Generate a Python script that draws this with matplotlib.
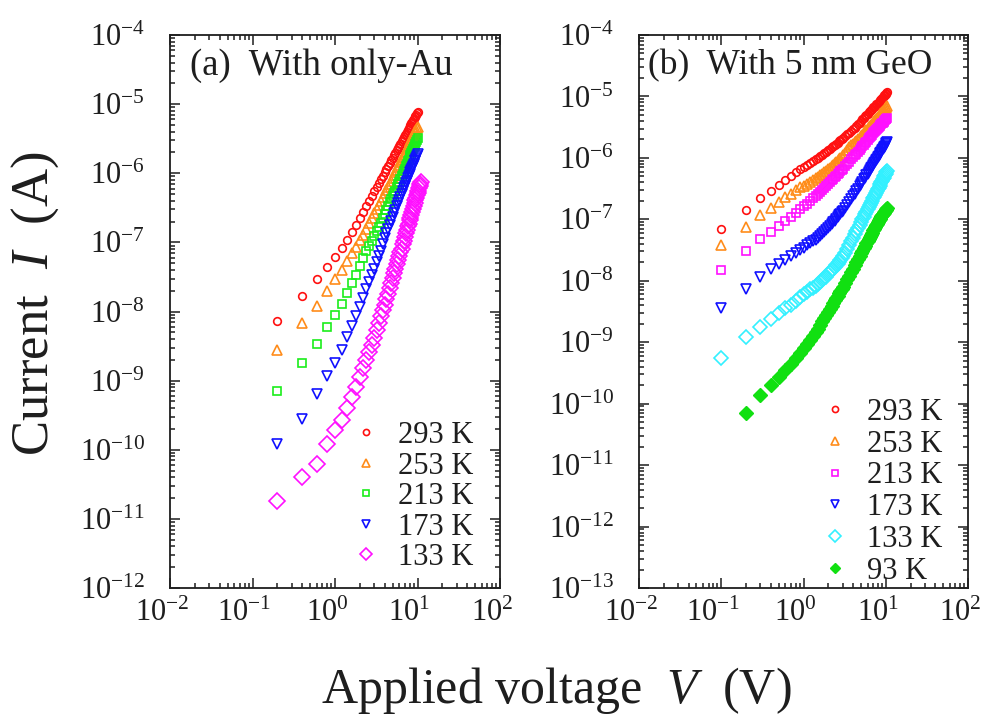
import numpy as np
import matplotlib
matplotlib.use("Agg")
import matplotlib.pyplot as plt
import matplotlib.transforms as mtransforms
from matplotlib.ticker import LogLocator, NullFormatter, FuncFormatter

# ---------------- data: panel (a) with only-Au ----------------
v_a = [0.2, 0.4, 0.6, 0.8, 1.0, 1.2, 1.4, 1.6, 1.8, 2.0,
       2.2, 2.4, 2.6, 2.8, 3.0, 3.2, 3.4, 3.6, 3.8, 4.0,
       4.2, 4.4, 4.6, 4.8, 5.0, 5.2, 5.4, 5.6, 5.8, 6.0,
       6.2, 6.4, 6.6, 6.8, 7.0, 7.2, 7.4, 7.6, 7.8, 8.0,
       8.2, 8.4, 8.6, 8.8, 9.0, 9.2, 9.4, 9.6, 9.8, 10.0]
v_a_133 = v_a + [10.2, 10.4, 10.6, 10.8, 11.0]

ia_293 = [7.4e-9, 1.7e-8, 2.95e-8, 4.47e-8, 6.17e-8, 8.3e-8, 1.10e-7, 1.41e-7, 1.78e-7, 2.24e-7,
          2.75e-7, 3.34e-7, 3.99e-7, 4.69e-7, 5.46e-7, 6.3e-7, 7.18e-7, 8.15e-7, 9.2e-7, 1.03e-6,
          1.15e-6, 1.27e-6, 1.40e-6, 1.54e-6, 1.68e-6, 1.84e-6, 1.99e-6, 2.16e-6, 2.33e-6, 2.51e-6,
          2.69e-6, 2.89e-6, 3.10e-6, 3.31e-6, 3.52e-6, 3.74e-6, 3.98e-6, 4.23e-6, 4.47e-6, 4.72e-6,
          4.99e-6, 5.25e-6, 5.53e-6, 5.82e-6, 6.12e-6, 6.44e-6, 6.73e-6, 7.05e-6, 7.38e-6, 7.73e-6]
ia_253 = [2.82e-9, 6.76e-9, 1.20e-8, 2.0e-8, 2.95e-8, 3.98e-8, 5.37e-8, 6.92e-8, 8.7e-8, 1.07e-7,
          1.29e-7, 1.57e-7, 1.90e-7, 2.25e-7, 2.64e-7, 3.05e-7, 3.51e-7, 4.0e-7, 4.54e-7, 5.1e-7,
          5.7e-7, 6.34e-7, 7.05e-7, 7.76e-7, 8.53e-7, 9.38e-7, 1.03e-6, 1.12e-6, 1.22e-6, 1.33e-6,
          1.44e-6, 1.56e-6, 1.69e-6, 1.82e-6, 1.95e-6, 2.08e-6, 2.23e-6, 2.39e-6, 2.54e-6, 2.70e-6,
          2.88e-6, 3.05e-6, 3.22e-6, 3.41e-6, 3.61e-6, 3.82e-6, 4.02e-6, 4.24e-6, 4.46e-6, 4.68e-6]
ia_213 = [7.08e-10, 1.82e-9, 3.39e-9, 5.89e-9, 8.91e-9, 1.29e-8, 1.86e-8, 2.57e-8, 3.39e-8, 4.57e-8,
          5.89e-8, 7.41e-8, 8.91e-8, 1.05e-7, 1.23e-7, 1.45e-7, 1.66e-7, 1.91e-7, 2.24e-7, 2.57e-7,
          2.92e-7, 3.31e-7, 3.80e-7, 4.27e-7, 4.68e-7, 5.13e-7, 5.62e-7, 6.31e-7, 6.92e-7, 7.59e-7,
          8.22e-7, 9.02e-7, 9.89e-7, 1.07e-6, 1.16e-6, 1.26e-6, 1.36e-6, 1.48e-6, 1.58e-6, 1.70e-6,
          1.82e-6, 1.95e-6, 2.09e-6, 2.21e-6, 2.37e-6, 2.51e-6, 2.69e-6, 2.85e-6, 3.02e-6, 3.24e-6]
ia_173 = [1.23e-10, 2.75e-10, 6.31e-10, 1.17e-9, 1.78e-9, 2.75e-9, 4.27e-9, 6.17e-9, 8.71e-9, 1.17e-8,
          1.58e-8, 2.14e-8, 2.69e-8, 3.39e-8, 4.17e-8, 5.13e-8, 6.31e-8, 7.59e-8, 9.33e-8, 1.15e-7,
          1.35e-7, 1.55e-7, 1.78e-7, 2.04e-7, 2.34e-7, 2.63e-7, 2.95e-7, 3.31e-7, 3.72e-7, 4.17e-7,
          4.57e-7, 5.01e-7, 5.5e-7, 6.03e-7, 6.61e-7, 7.16e-7, 7.76e-7, 8.41e-7, 9.12e-7, 9.77e-7,
          1.05e-6, 1.12e-6, 1.20e-6, 1.29e-6, 1.38e-6, 1.48e-6, 1.58e-6, 1.68e-6, 1.78e-6, 1.91e-6]
ia_133 = [1.82e-11, 3.98e-11, 6.31e-11, 1.20e-10, 1.95e-10, 2.69e-10, 4.07e-10, 5.89e-10, 8.13e-10, 1.12e-9,
          1.51e-9, 2.0e-9, 2.57e-9, 3.31e-9, 4.17e-9, 5.37e-9, 6.76e-9, 8.51e-9, 1.05e-8, 1.26e-8,
          1.51e-8, 1.82e-8, 2.19e-8, 2.57e-8, 3.02e-8, 3.55e-8, 4.07e-8, 4.79e-8, 5.5e-8, 6.31e-8,
          7.24e-8, 8.13e-8, 9.33e-8, 1.05e-7, 1.20e-7, 1.35e-7, 1.51e-7, 1.70e-7, 1.86e-7, 2.09e-7,
          2.29e-7, 2.51e-7, 2.75e-7, 3.09e-7, 3.39e-7, 3.72e-7, 4.07e-7, 4.37e-7, 4.79e-7, 5.25e-7,
          5.62e-7, 6.17e-7, 6.61e-7, 7.08e-7, 7.59e-7]

# ---------------- data: panel (b) with 5 nm GeO ----------------
v_b = [0.1, 0.2, 0.3, 0.4, 0.5, 0.6, 0.7, 0.8, 0.9, 1.0,
       1.1, 1.2, 1.3, 1.4, 1.5, 1.6, 1.7, 1.8, 1.9, 2.0,
       2.1, 2.2, 2.3, 2.4, 2.5, 2.6, 2.7, 2.8, 2.9, 3.0,
       3.2, 3.4, 3.6, 3.8, 4.0, 4.2, 4.4, 4.6, 4.8, 5.0,
       5.2, 5.4, 5.6, 5.8, 6.0, 6.2, 6.4, 6.6, 6.8, 7.0,
       7.2, 7.4, 7.6, 7.8, 8.0, 8.2, 8.4, 8.6, 8.8, 9.0,
       9.2, 9.4, 9.6, 9.8, 10.0, 10.2, 10.4]
v_b_93 = v_b[1:]

ib_293 = [6.9e-8, 1.41e-7, 2.19e-7, 2.88e-7, 3.63e-7, 4.37e-7, 5.13e-7, 5.89e-7, 6.61e-7, 7.24e-7,
          7.76e-7, 8.32e-7, 9.0e-7, 9.55e-7, 1.01e-6, 1.07e-6, 1.13e-6, 1.20e-6, 1.27e-6, 1.35e-6,
          1.41e-6, 1.48e-6, 1.55e-6, 1.62e-6, 1.70e-6, 1.78e-6, 1.86e-6, 1.95e-6, 2.02e-6, 2.09e-6,
          2.25e-6, 2.42e-6, 2.58e-6, 2.75e-6, 2.92e-6, 3.09e-6, 3.31e-6, 3.55e-6, 3.76e-6, 3.98e-6,
          4.22e-6, 4.47e-6, 4.73e-6, 4.95e-6, 5.25e-6, 5.5e-6, 5.75e-6, 6.03e-6, 6.31e-6, 6.61e-6,
          6.84e-6, 7.08e-6, 7.41e-6, 7.67e-6, 7.94e-6, 8.22e-6, 8.51e-6, 8.81e-6, 9.12e-6, 9.44e-6,
          9.77e-6, 1.01e-5, 1.05e-5, 1.07e-5, 1.11e-5, 1.15e-5, 1.17e-5]
ib_253 = [3.89e-8, 7.59e-8, 1.17e-7, 1.51e-7, 1.91e-7, 2.29e-7, 2.63e-7, 3.02e-7, 3.31e-7, 3.55e-7,
          3.80e-7, 4.07e-7, 4.37e-7, 4.62e-7, 4.90e-7, 5.19e-7, 5.5e-7, 5.82e-7, 6.17e-7, 6.53e-7,
          6.92e-7, 7.33e-7, 7.76e-7, 8.13e-7, 8.61e-7, 9.02e-7, 9.44e-7, 1.0e-6, 1.05e-6, 1.10e-6,
          1.19e-6, 1.32e-6, 1.51e-6, 1.62e-6, 1.70e-6, 1.80e-6, 1.91e-6, 2.02e-6, 2.14e-6, 2.26e-6,
          2.40e-6, 2.54e-6, 2.69e-6, 2.85e-6, 2.99e-6, 3.13e-6, 3.27e-6, 3.43e-6, 3.59e-6, 3.76e-6,
          3.94e-6, 4.07e-6, 4.27e-6, 4.42e-6, 4.57e-6, 4.79e-6, 4.95e-6, 5.13e-6, 5.31e-6, 5.5e-6,
          5.69e-6, 5.89e-6, 6.1e-6, 6.31e-6, 6.53e-6, 6.76e-6, 7.0e-6]
ib_213 = [1.51e-8, 3.09e-8, 4.79e-8, 6.31e-8, 7.76e-8, 9.33e-8, 1.10e-7, 1.26e-7, 1.45e-7, 1.62e-7,
          1.80e-7, 2.0e-7, 2.19e-7, 2.37e-7, 2.57e-7, 2.75e-7, 2.99e-7, 3.24e-7, 3.51e-7, 3.76e-7,
          4.03e-7, 4.32e-7, 4.57e-7, 4.84e-7, 5.13e-7, 5.43e-7, 5.69e-7, 6.03e-7, 6.31e-7, 6.68e-7,
          7.33e-7, 8.04e-7, 8.71e-7, 9.44e-7, 1.02e-6, 1.10e-6, 1.17e-6, 1.26e-6, 1.35e-6, 1.45e-6,
          1.55e-6, 1.64e-6, 1.74e-6, 1.84e-6, 1.95e-6, 2.07e-6, 2.16e-6, 2.29e-6, 2.40e-6, 2.51e-6,
          2.60e-6, 2.72e-6, 2.82e-6, 2.92e-6, 3.02e-6, 3.16e-6, 3.27e-6, 3.39e-6, 3.51e-6, 3.63e-6,
          3.72e-6, 3.85e-6, 3.98e-6, 4.12e-6, 4.27e-6, 4.37e-6, 4.47e-6]
ib_173 = [3.63e-9, 7.41e-9, 1.15e-8, 1.55e-8, 1.91e-8, 2.21e-8, 2.51e-8, 2.82e-8, 3.16e-8, 3.47e-8,
          3.80e-8, 4.07e-8, 4.37e-8, 4.68e-8, 5.01e-8, 5.37e-8, 5.82e-8, 6.31e-8, 6.76e-8, 7.24e-8,
          7.76e-8, 8.32e-8, 8.91e-8, 9.55e-8, 1.02e-7, 1.10e-7, 1.16e-7, 1.23e-7, 1.30e-7, 1.38e-7,
          1.53e-7, 1.70e-7, 1.91e-7, 2.14e-7, 2.37e-7, 2.63e-7, 2.88e-7, 3.16e-7, 3.47e-7, 3.80e-7,
          4.12e-7, 4.47e-7, 4.79e-7, 5.19e-7, 5.56e-7, 5.96e-7, 6.38e-7, 6.84e-7, 7.24e-7, 7.76e-7,
          8.22e-7, 8.71e-7, 9.23e-7, 9.77e-7, 1.02e-6, 1.08e-6, 1.14e-6, 1.20e-6, 1.26e-6, 1.32e-6,
          1.38e-6, 1.45e-6, 1.51e-6, 1.58e-6, 1.66e-6, 1.74e-6, 1.80e-6]
ib_133 = [5.62e-10, 1.23e-9, 1.78e-9, 2.40e-9, 2.95e-9, 3.55e-9, 4.07e-9, 4.68e-9, 5.37e-9, 6.03e-9,
          6.61e-9, 7.24e-9, 7.76e-9, 8.32e-9, 8.91e-9, 9.55e-9, 1.02e-8, 1.10e-8, 1.17e-8, 1.29e-8,
          1.38e-8, 1.48e-8, 1.58e-8, 1.70e-8, 1.80e-8, 1.91e-8, 2.04e-8, 2.19e-8, 2.34e-8, 2.51e-8,
          2.88e-8, 3.31e-8, 3.80e-8, 4.37e-8, 5.01e-8, 5.69e-8, 6.46e-8, 7.24e-8, 8.13e-8, 9.02e-8,
          1.0e-7, 1.10e-7, 1.22e-7, 1.33e-7, 1.45e-7, 1.58e-7, 1.72e-7, 1.86e-7, 2.02e-7, 2.19e-7,
          2.34e-7, 2.51e-7, 2.69e-7, 2.88e-7, 3.09e-7, 3.27e-7, 3.51e-7, 3.72e-7, 3.98e-7, 4.22e-7,
          4.47e-7, 4.73e-7, 5.01e-7, 5.25e-7, 5.56e-7, 5.89e-7, 6.17e-7]
ib_93 = [6.92e-11, 1.38e-10, 2.0e-10, 2.69e-10, 3.47e-10, 4.47e-10, 5.62e-10, 6.76e-10, 7.94e-10,
         9.33e-10, 1.07e-9, 1.26e-9, 1.45e-9, 1.66e-9, 1.91e-9, 2.19e-9, 2.45e-9, 2.79e-9, 3.16e-9,
         3.51e-9, 3.89e-9, 4.37e-9, 4.79e-9, 5.25e-9, 5.75e-9, 6.31e-9, 6.84e-9, 7.41e-9, 7.94e-9,
         9.12e-9, 1.05e-8, 1.20e-8, 1.38e-8, 1.58e-8, 1.80e-8, 2.02e-8, 2.26e-8, 2.51e-8, 2.82e-8,
         3.09e-8, 3.39e-8, 3.72e-8, 4.07e-8, 4.47e-8, 4.79e-8, 5.19e-8, 5.62e-8, 6.1e-8, 6.61e-8,
         7.0e-8, 7.5e-8, 8.04e-8, 8.51e-8, 9.12e-8, 9.66e-8, 1.01e-7, 1.07e-7, 1.12e-7, 1.17e-7,
         1.23e-7, 1.27e-7, 1.32e-7, 1.36e-7, 1.41e-7, 1.46e-7, 1.51e-7]

labels_a = ["293 K", "253 K", "213 K", "173 K", "133 K"]
labels_b = ["293 K", "253 K", "213 K", "173 K", "133 K", "93 K"]

# ---------------- style ----------------
plt.rcParams.update({
    "font.family": ["Liberation Serif", "DejaVu Serif"],
    "mathtext.fontset": "custom",
    "mathtext.rm": "Liberation Serif",
    "mathtext.it": "Liberation Serif:italic",
    "axes.unicode_minus": False,
})

RED, ORANGE, GREEN, BLUE, MAGENTA, CYAN = "#ff1010", "#ff8c1a", "#1aee1a", "#1010ff", "#ff10ff", "#33f0ff"
INK = "#1e1e1e"

fig = plt.figure(figsize=(9.84, 7.16), dpi=100)
W, H = 984.0, 716.0


def pow_label(v, pos):
    e = int(round(np.log10(v)))
    return r"$\mathregular{10^{%d}}$" % e


def style_axes(ax, ymin):
    ax.set_xscale("log")
    ax.set_yscale("log")
    ax.set_xlim(1e-2, 1e2)
    ax.set_ylim(ymin, 1e-4)
    for axis in (ax.xaxis, ax.yaxis):
        axis.set_major_locator(LogLocator(base=10, numticks=30))
        axis.set_minor_locator(LogLocator(base=10, subs=range(2, 10), numticks=30))
        axis.set_major_formatter(FuncFormatter(pow_label))
        axis.set_minor_formatter(NullFormatter())
    ax.tick_params(which="both", direction="in", top=True, right=True, width=1.1, colors=INK)
    ax.tick_params(which="major", length=7, labelsize=22, labelcolor=INK)
    ax.tick_params(which="minor", length=3.5)
    ax.tick_params(axis="y", pad=18)
    ax.tick_params(axis="x", pad=8)
    for sp in ax.spines.values():
        sp.set_linewidth(1.3)
        sp.set_color(INK)
    # decade labels on the voltage axis sit slightly left of their ticks
    shift = mtransforms.ScaledTranslation(-8 / 100, 0, fig.dpi_scale_trans)
    for lab in ax.xaxis.get_majorticklabels():
        lab.set_transform(lab.get_transform() + shift)


ax_a = fig.add_axes([170 / W, 1 - 588 / H, 330 / W, 553 / H])
ax_b = fig.add_axes([639 / W, 1 - 588 / H, 329 / W, 553 / H])
style_axes(ax_a, 1e-12)
style_axes(ax_b, 1e-13)

hollow = dict(linestyle="none", markerfacecolor="none", markeredgewidth=1.2)

# panel (a)
series_a = [
    (v_a, ia_293, "o", 5.5, RED),
    (v_a, ia_253, "^", 6.5, ORANGE),
    (v_a, ia_213, "s", 6.0, GREEN),
    (v_a, ia_173, "v", 6.5, BLUE),
    (v_a_133, ia_133, "D", 8.0, MAGENTA),
]
for (v, i, m, ms, c), lab in zip(series_a, labels_a):
    ax_a.plot(v, i, marker=m, markersize=ms, color=c, markeredgecolor=c, label=lab, **hollow)

# panel (b)
series_b = [
    (v_b, ib_293, "o", 5.5, RED, False),
    (v_b, ib_253, "^", 6.5, ORANGE, False),
    (v_b, ib_213, "s", 5.5, MAGENTA, False),
    (v_b, ib_173, "v", 6.5, BLUE, False),
    (v_b, ib_133, "D", 7.5, CYAN, False),
    (v_b_93, ib_93, "D", 7.0, "#11e011", True),
]
for (v, i, m, ms, c, filled), lab in zip(series_b, labels_b):
    if filled:
        ax_b.plot(v, i, linestyle="none", marker=m, markersize=ms, color=c,
                  markeredgecolor=c, label=lab)
    else:
        ax_b.plot(v, i, marker=m, markersize=ms, color=c, markeredgecolor=c, label=lab, **hollow)

leg_kw = dict(frameon=False, fontsize=22, handlelength=1.0, handletextpad=0.55,
              borderpad=0.0, borderaxespad=0.0, loc="upper left", markerscale=0.8,
              labelcolor=INK)
ax_a.legend(bbox_to_anchor=(0.548, 0.302), labelspacing=0.05, **leg_kw)
ax_b.legend(bbox_to_anchor=(0.55, 0.344), labelspacing=0.09, **leg_kw)

ax_a.text(0.06, 0.945, "(a)  With only-Au", transform=ax_a.transAxes,
          fontsize=26.5, va="center", ha="left", color=INK)
ax_b.text(0.027, 0.945, "(b)  With 5 nm GeO", transform=ax_b.transAxes,
          fontsize=25.5, va="center", ha="left", color=INK)

fig.text(0.036, 0.575, r"Current  $I$  (A)", rotation=90, fontsize=38,
         ha="center", va="center", color=INK)
fig.text(0.565, 0.035, r"Applied voltage  $V$  (V)", fontsize=36,
         ha="center", va="center", color=INK)

fig.savefig("out.png", dpi=100)
